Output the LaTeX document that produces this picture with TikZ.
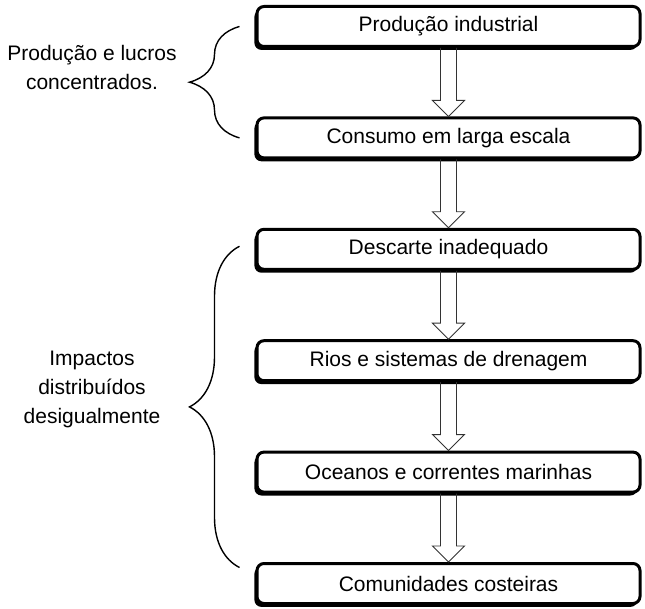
\documentclass[tikz,border=0pt]{standalone}
\usepackage{fontspec}
\setmainfont{Liberation Sans}
\usetikzlibrary{positioning,decorations.pathreplacing,shadows}

\begin{document}
\begin{tikzpicture}[x=1pt, y=1pt, node distance=111.4pt, >=latex]
    % Define block styles
    \tikzstyle{stage} = [draw, fill=white, rectangle, rounded corners=7pt, line width=3pt,
        minimum width=383pt, minimum height=40pt, font=\fontsize{21}{25}\selectfont,
        drop shadow={shadow xshift=-2.6pt, shadow yshift=-3.4pt, fill=black, opacity=1}]
    \tikzstyle{brlabel} = [align=center, font=\fontsize{21}{29}\selectfont]
    \tikzstyle{curly} = [decorate, decoration={brace, amplitude=50pt}, line width=1.4pt]
    \tikzstyle{hollow} = [draw, line width=0.9pt, black!80, line join=miter,
        to path={([xshift=-8pt]\tikztostart) -- ([xshift=-8pt, yshift=16pt]\tikztotarget)
            -- ([xshift=-16pt, yshift=16pt]\tikztotarget) -- (\tikztotarget)
            -- ([xshift=16pt, yshift=16pt]\tikztotarget) -- ([xshift=8pt, yshift=16pt]\tikztotarget)
            -- ([xshift=8pt]\tikztostart)}]

    \useasboundingbox (0,0) rectangle (645,608);

    % Nodes
    \node [stage] (prod) at (448.5,581.5) {Produção industrial};
    \node [stage, below of=prod] (cons) {Consumo em larga escala};
    \node [stage, below of=cons] (desc) {Descarte inadequado};
    \node [stage, below of=desc] (rios) {Rios e sistemas de drenagem};
    \node [stage, below of=rios] (ocean) {Oceanos e correntes marinhas};
    \node [stage, below of=ocean] (comm) {Comunidades costeiras};
    \node [brlabel] (conc) at (92,541) {Produção e lucros\\concentrados.};
    \node [brlabel] (imp) at (92,219) {Impactos\\distribuídos\\desigualmente};

    % Connections
    \draw [hollow] (prod.south) to (cons.north);
    \draw [hollow] (cons.south) to (desc.north);
    \draw [hollow] (desc.south) to (rios.north);
    \draw [hollow] (rios.south) to (ocean.north);
    \draw [hollow] (ocean.south) to (comm.north);

    % Braces
    \draw [curly] ([xshift=-16pt]cons.west) -- ([xshift=-16pt]prod.west);
    \draw [curly] ([xshift=-16pt, yshift=16pt]comm.west) -- ([xshift=-16pt, yshift=3pt]desc.west);
\end{tikzpicture}
\end{document}
